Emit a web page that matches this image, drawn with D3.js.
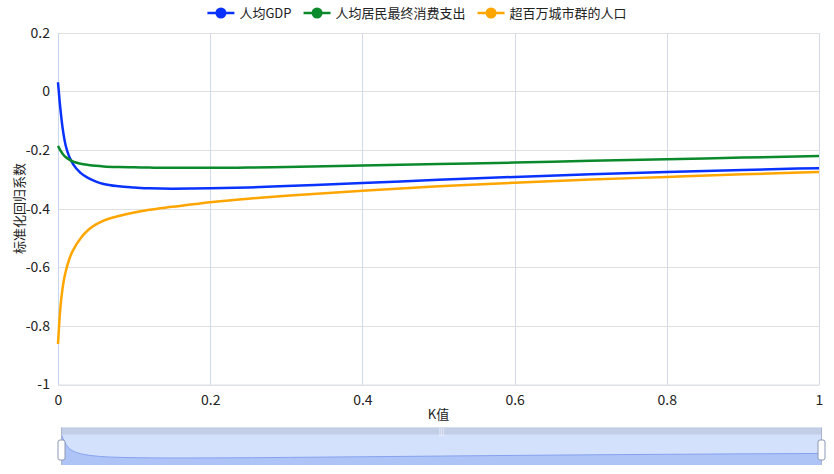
<!DOCTYPE html>
<meta charset="utf-8">
<head>
<style>
  body { margin: 0; background: #fff; }
  svg { font-family: 'Noto Sans CJK SC', 'Open Sans', sans-serif; }
  .grid line { shape-rendering: crispEdges; }
</style>
</head>
<body>
<svg width="834" height="474"></svg>
<script src="https://d3js.org/d3.v7.min.js"></script>
<script>
// ridge trace values
var kValues = [0, 0.002, 0.004, 0.006, 0.008, 0.01, 0.015, 0.02, 0.03, 0.04, 0.05, 0.06, 0.08,
               0.1, 0.12, 0.15, 0.2, 0.25, 0.3, 0.4, 0.5, 0.6, 0.7, 0.8, 0.9, 1.0];
var gdp = [0.031, -0.03, -0.08, -0.124, -0.158, -0.184, -0.224, -0.249, -0.279, -0.296, -0.308, -0.316, -0.324,
           -0.328, -0.331, -0.332, -0.331, -0.328, -0.323, -0.313, -0.302, -0.292, -0.283, -0.275, -0.268, -0.262];
var consumption = [-0.186, -0.196, -0.205, -0.213, -0.219, -0.224, -0.233, -0.24, -0.247, -0.251, -0.254, -0.256, -0.258,
                   -0.259, -0.26, -0.261, -0.261, -0.26, -0.258, -0.253, -0.248, -0.243, -0.237, -0.232, -0.226, -0.221];
var bigCityPop = [-0.862, -0.775, -0.715, -0.672, -0.64, -0.616, -0.571, -0.541, -0.5, -0.472, -0.454, -0.441, -0.425,
                  -0.413, -0.404, -0.394, -0.378, -0.366, -0.356, -0.339, -0.324, -0.312, -0.301, -0.292, -0.283, -0.275];

var seriesNames = ['人均GDP', '人均居民最终消费支出', '超百万城市群的人口'];
var seriesColors = ['#0a32ff', '#0b8a2c', '#ffa500'];
var yTicks = [0.2, 0, -0.2, -0.4, -0.6, -0.8, -1];
var xTicks = [0, 0.2, 0.4, 0.6, 0.8, 1];

var series = [gdp, consumption, bigCityPop];

var svg = d3.select('svg');
var gLeft = 58, gRight = 819, gTop = 32.7, gBottom = 384.5;

var x = d3.scaleLinear().domain([0, 1]).range([gLeft, gRight]);
var y = d3.scaleLinear().domain([-1, 0.2]).range([gBottom, gTop]);
var fmt = d => String(+d.toFixed(1));

// grid
var grid = svg.append('g').attr('class', 'grid');
grid.selectAll('.hg').data(yTicks).enter().append('line')
  .attr('x1', gLeft).attr('x2', gRight)
  .attr('y1', d => Math.round(y(d)) + 0.5).attr('y2', d => Math.round(y(d)) + 0.5)
  .attr('stroke', '#e0e0e0');
grid.selectAll('.vg').data(xTicks).enter().append('line')
  .attr('x1', d => Math.round(x(d)) + 0.5).attr('x2', d => Math.round(x(d)) + 0.5)
  .attr('y1', gTop).attr('y2', gBottom)
  .attr('stroke', '#d3dbea');

// axes
var yAxis = svg.append('g')
  .attr('transform', 'translate(' + gLeft + ',0)')
  .call(d3.axisLeft(y).tickValues(yTicks).tickSize(0).tickPadding(8).tickFormat(fmt));
yAxis.select('.domain').attr('stroke', '#c9d6f0');
yAxis.selectAll('text').attr('font-size', 14).attr('fill', '#222').attr('font-family', 'Noto Sans CJK SC');

var xAxis = svg.append('g')
  .attr('transform', 'translate(0,' + gBottom + ')')
  .call(d3.axisBottom(x).tickValues(xTicks).tickSize(0).tickPadding(11).tickFormat(fmt));
xAxis.select('.domain').attr('stroke', '#dcdfe6');
xAxis.selectAll('text').attr('font-size', 14).attr('fill', '#222').attr('font-family', 'Noto Sans CJK SC');

svg.append('text')
  .attr('x', (gLeft + gRight) / 2).attr('y', 419)
  .attr('text-anchor', 'middle').attr('font-size', 13).attr('fill', '#222')
  .text('K值');

svg.append('text')
  .attr('transform', 'translate(24,' + ((gTop + gBottom) / 2) + ') rotate(-90)')
  .attr('text-anchor', 'middle').attr('font-size', 13).attr('fill', '#222')
  .text('标准化回归系数');

// lines
var line = d3.line()
  .x((d, i) => x(kValues[i]))
  .y(d => y(d))
  .curve(d3.curveMonotoneX);

svg.append('g').selectAll('path').data(series).enter().append('path')
  .attr('d', line)
  .attr('fill', 'none')
  .attr('stroke', (d, i) => seriesColors[i])
  .attr('stroke-width', 2.5);

// legend, laid out from measured text widths and centred
var legendG = svg.append('g');
var legend = legendG.selectAll('g').data(seriesNames).enter().append('g');
legend.append('line')
  .attr('x1', 0).attr('x2', 27).attr('y1', 0).attr('y2', 0)
  .attr('stroke', (d, i) => seriesColors[i]).attr('stroke-width', 2.5);
legend.append('circle')
  .attr('cx', 13.5).attr('r', 5.5)
  .attr('fill', (d, i) => seriesColors[i]);
legend.append('text')
  .attr('x', 32).attr('dy', '0.35em')
  .attr('font-size', 13).attr('fill', '#222')
  .text(d => d);
var pos = 0, offs = [];
legend.each(function () {
  offs.push(pos);
  pos += 32 + this.querySelector('text').getComputedTextLength() + 12;
});
var total = pos - 12;
var startX = 417 - total / 2;
legend.attr('transform', (d, i) => 'translate(' + (startX + offs[i]) + ',13)');

// data zoom slider
var sl = 61.5, sr = 821.5, st = 427.5, sb = 465;
var zoomX = d3.scaleLinear().domain([0, 1]).range([sl, sr]);
var ext = d3.extent(gdp), pad = (ext[1] - ext[0]) * 0.3;
var zoomY = d3.scaleLinear().domain([ext[0] - pad, ext[1] + pad]).range([sb, st]);

var slider = svg.append('g');
slider.append('rect')
  .attr('x', sl).attr('y', st).attr('width', sr - sl).attr('height', sb - st)
  .attr('fill', '#d4e1fd');
slider.append('path')
  .datum(gdp)
  .attr('d', d3.area()
    .x((d, i) => zoomX(kValues[i]))
    .y0(sb).y1(d => zoomY(d))
    .curve(d3.curveMonotoneX))
  .attr('fill', '#aec4f7');
slider.append('path')
  .datum(gdp)
  .attr('d', d3.line()
    .x((d, i) => zoomX(kValues[i]))
    .y(d => zoomY(d))
    .curve(d3.curveMonotoneX))
  .attr('fill', 'none').attr('stroke', '#86a2ee').attr('stroke-width', 1);
slider.append('rect')
  .attr('x', sl).attr('y', st).attr('width', sr - sl).attr('height', 7)
  .attr('fill', '#c2cde6');
slider.append('text')
  .attr('x', (sl + sr) / 2).attr('y', st + 6).attr('text-anchor', 'middle')
  .attr('font-size', 7).attr('fill', '#fff').text('|||');
slider.selectAll('.edge').data([sl, sr]).enter().append('line')
  .attr('x1', d => d).attr('x2', d => d).attr('y1', st).attr('y2', sb)
  .attr('stroke', '#aab6d0').attr('stroke-width', 1);
slider.selectAll('.handle').data([sl, sr]).enter().append('rect')
  .attr('x', d => d - 3.5).attr('y', 440).attr('width', 7).attr('height', 20).attr('rx', 2)
  .attr('fill', '#fff').attr('stroke', '#8d98b3').attr('stroke-width', 1);
</script>
</body>
